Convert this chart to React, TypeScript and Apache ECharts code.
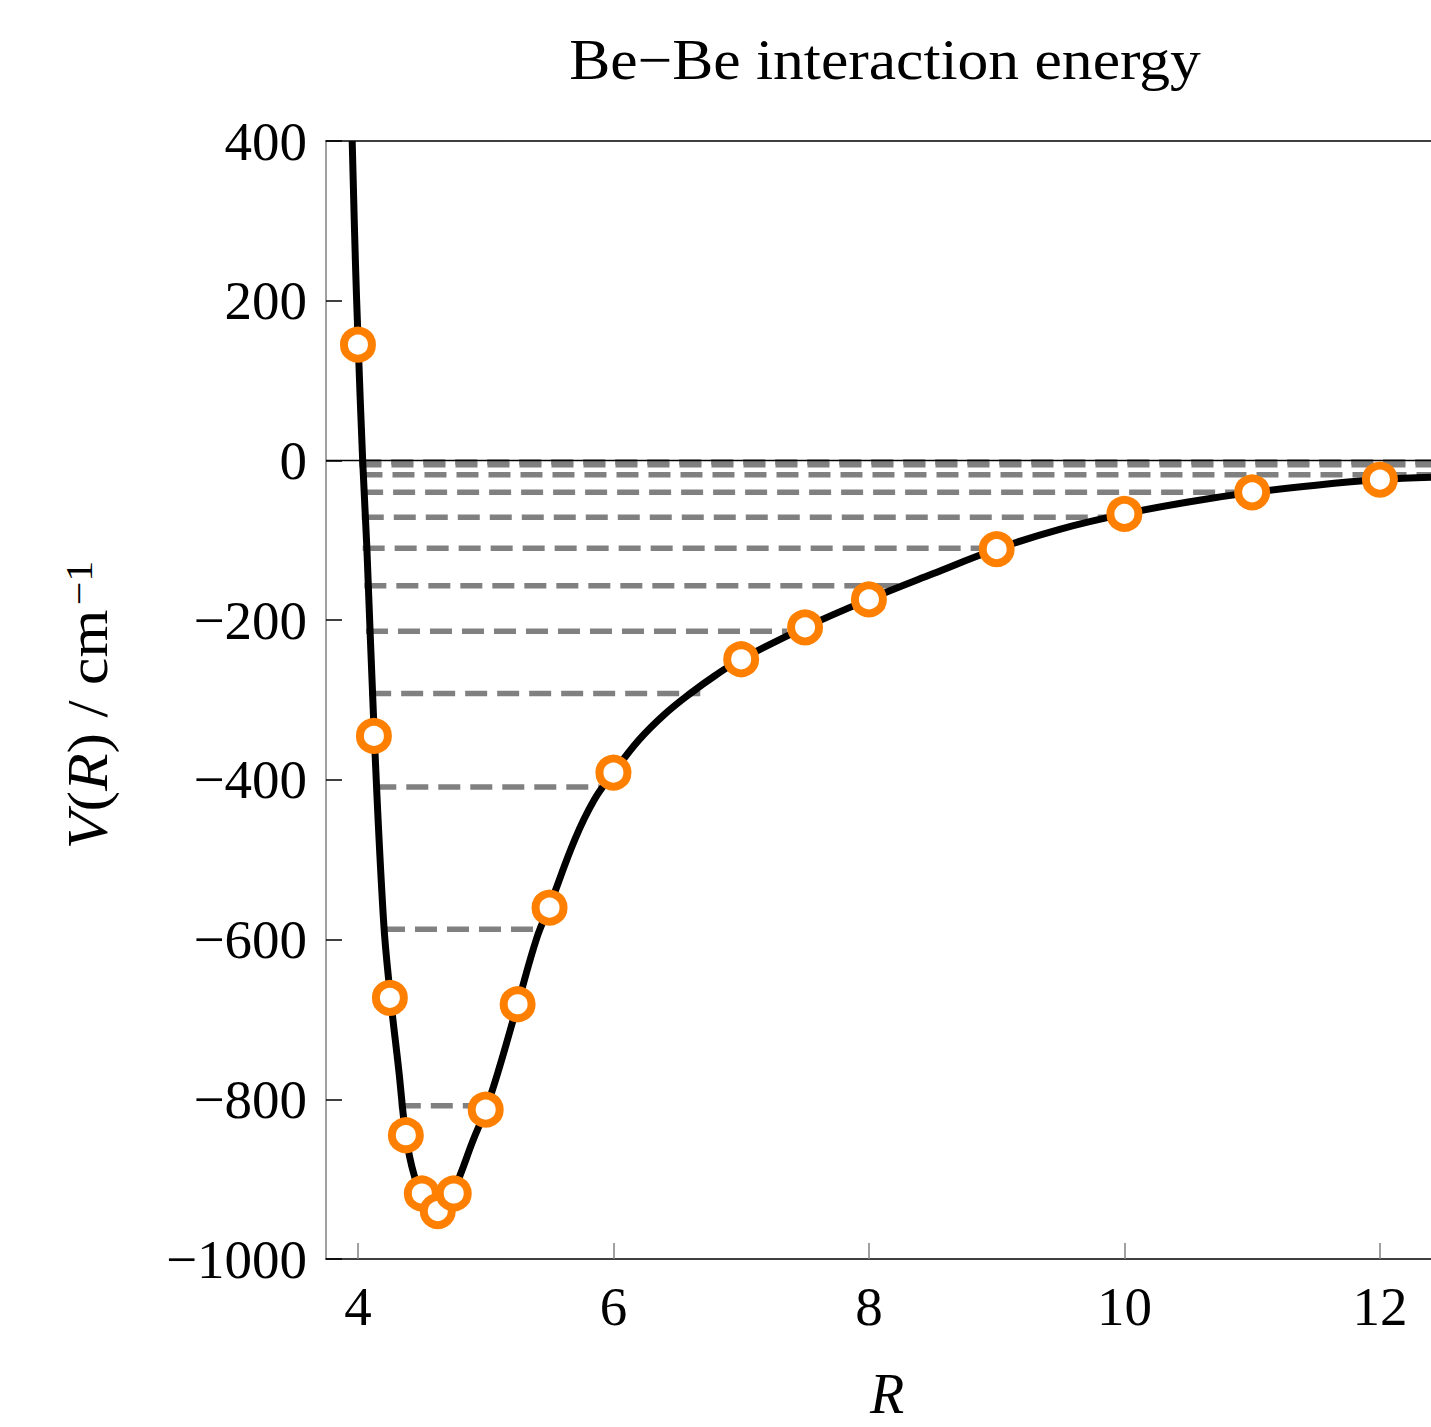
import React, { useEffect, useRef } from "react";
import * as echarts from "echarts";

// Fitted Be–Be potential curve V(R), in cm^-1
const curveR = [3.955, 3.98, 4.0, 4.037, 4.07, 4.128, 4.2, 4.25, 4.32, 4.375, 4.44, 4.52, 4.62, 4.72, 4.8, 4.9, 5.0, 5.1, 5.25, 5.4, 5.5, 5.7, 5.85, 6.0, 6.2, 6.4, 6.6, 6.8, 7.0, 7.5, 8.0, 8.5, 9.0, 9.5, 10.0, 10.5, 11.0, 11.5, 12.0, 12.4];
const curveV = [400, 250, 155, 0, -110, -345, -575, -665, -764, -845, -895, -925, -936, -925, -895, -852, -813, -764, -681, -598, -558, -474, -425, -391, -350, -318, -292, -269, -249, -209, -174, -142, -111, -86, -67, -52, -40, -31, -24, -21];

// Ab initio points
const pointR = [4.0, 4.125, 4.25, 4.375, 4.5, 4.625, 4.75, 5.0, 5.25, 5.5, 6.0, 7.0, 7.5, 8.0, 9.0, 10.0, 11.0, 12.0];
const pointV = [145, -345, -673, -845, -918, -940, -918, -813, -681, -560, -391, -249, -209, -174, -111, -67, -40, -24];

// Vibrational levels: energy and classical turning points
const levelE = [-808, -587, -409, -292, -214, -157, -110, -71, -40, -18, -5.5, -2];
const levelInner = [4.32, 4.196, 4.128, 4.088, 4.063, 4.05, 4.037, 4.03, 4.025, 4.02, 4.012, 4.01];
const levelOuter = [4.99, 5.42, 5.89, 6.68, 7.36, 8.24, 8.99, 9.93, 10.9, 12.4, 12.4, 12.4];

const xTicks = [4, 6, 8, 10, 12];
const xMin = 3.75;
const xMax = 12.4;
const yMin = -1000;
const yMax = 400;
const yStep = 200;

const FONT = '"Liberation Serif", "DejaVu Serif", serif';

const fmtNum = (v: number) => (v < 0 ? "\u2212" + Math.abs(v) : String(v));

export default function App() {
  const ref = useRef<HTMLDivElement>(null);

  useEffect(() => {
    if (!ref.current) return;
    const chart = echarts.init(ref.current, null, { renderer: "svg", width: 1431, height: 1427 });

    const levelSeries = levelE.map((e, i) => ({
      type: "line",
      data: [
        [levelInner[i], e],
        [levelOuter[i], e],
      ],
      symbol: "none",
      showSymbol: false,
      silent: true,
      lineStyle: { color: "#808080", width: 5.5, type: [22, 10] },
      z: 2,
    }));

    chart.setOption({
      animation: false,
      backgroundColor: "#ffffff",
      textStyle: { fontFamily: FONT },
      grid: { left: 326, top: 141, right: 0, height: 1118, containLabel: false },
      xAxis: [
        {
          type: "value",
          min: xMin,
          max: xMax,
          position: "bottom",
          axisLine: { show: true, onZero: false, lineStyle: { color: "#000", width: 1.5 } },
          axisTick: {
            show: true,
            inside: true,
            length: 16,
            customValues: xTicks,
            lineStyle: { color: "#808080", width: 1.5 },
          },
          axisLabel: {
            show: true,
            customValues: xTicks,
            margin: 20,
            fontSize: 55,
            fontFamily: FONT,
            color: "#000",
          },
          splitLine: { show: false },
        },
        {
          type: "value",
          min: xMin,
          max: xMax,
          position: "top",
          axisLine: { show: true, onZero: false, lineStyle: { color: "#000", width: 1.5 } },
          axisTick: { show: false },
          axisLabel: { show: false },
          splitLine: { show: false },
        },
      ],
      yAxis: {
        type: "value",
        min: yMin,
        max: yMax,
        interval: yStep,
        axisLine: { show: true, onZero: false, lineStyle: { color: "#808080", width: 1.5 } },
        axisTick: { show: true, inside: true, length: 16, lineStyle: { color: "#000", width: 1.5 } },
        axisLabel: {
          margin: 19,
          fontSize: 55,
          fontFamily: FONT,
          color: "#000",
          formatter: (v: number) => fmtNum(v),
        },
        splitLine: { show: false },
      },
      series: [
        ...levelSeries,
        {
          type: "line",
          data: [
            [xMin, 0],
            [xMax, 0],
          ],
          symbol: "none",
          silent: true,
          lineStyle: { color: "#000", width: 1.5 },
          z: 3,
        },
        {
          type: "line",
          data: curveR.map((r, i) => [r, curveV[i]]),
          smooth: 0.4,
          symbol: "none",
          showSymbol: false,
          silent: true,
          lineStyle: { color: "#000", width: 7 },
          z: 4,
        },
        {
          type: "scatter",
          data: pointR.map((r, i) => [r, pointV[i]]),
          symbol: "circle",
          symbolSize: 28,
          itemStyle: { color: "#ffffff", borderColor: "#ff8000", borderWidth: 8, opacity: 1 },
          z: 6,
        },
      ],
      graphic: [
        {
          type: "text",
          x: 885,
          y: 60,
          scaleX: 1.08,
          style: {
            text: "Be\u2212Be interaction energy",
            fontSize: 57,
            fontFamily: FONT,
            fill: "#000",
            align: "center",
            verticalAlign: "middle",
          },
        },
        {
          type: "text",
          x: 88,
          y: 705,
          rotation: Math.PI / 2,
          scaleX: 1.1,
          style: {
            text: "{it|V}{rm|(}{it|R}{rm|) / cm}{sup|\u22121}",
            fontFamily: FONT,
            fill: "#000",
            align: "center",
            verticalAlign: "middle",
            rich: {
              it: { fontSize: 56, fontStyle: "italic", fontFamily: FONT, lineHeight: 56, verticalAlign: "bottom" },
              rm: { fontSize: 56, fontFamily: FONT, lineHeight: 56, verticalAlign: "bottom" },
              sup: {
                fontSize: 38,
                fontFamily: FONT,
                lineHeight: 38,
                padding: [0, 0, 32, 4],
                verticalAlign: "top",
              },
            },
          },
        },
        {
          type: "text",
          x: 887,
          y: 1394,
          style: {
            text: "R",
            fontSize: 56,
            lineHeight: 36,
            fontStyle: "italic",
            fontFamily: FONT,
            fill: "#000",
            align: "center",
            verticalAlign: "middle",
          },
        },
      ],
    });

    return () => {
      chart.dispose();
    };
  }, []);

  return (
    <div
      ref={ref}
      style={{ position: "absolute", left: 0, top: 0, width: 1431, height: 1427, background: "#fff" }}
    />
  );
}
